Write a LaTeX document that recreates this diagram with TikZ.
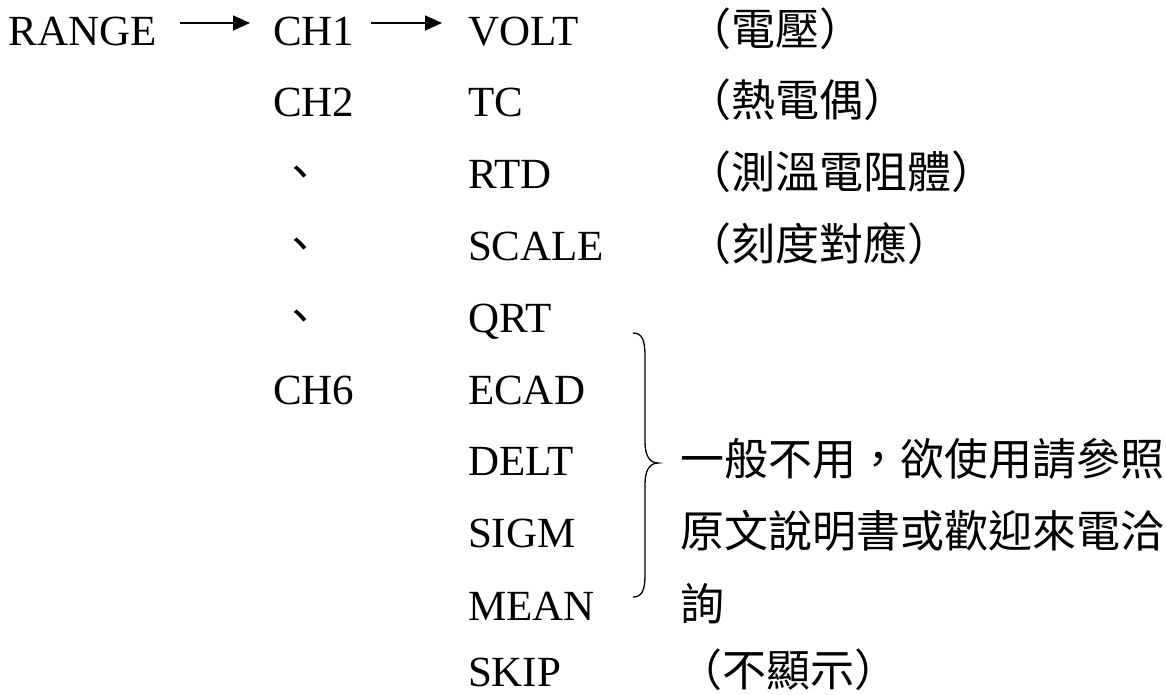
\documentclass[tikz,border=0pt]{standalone}
\usepackage{fontspec}
\setmainfont{Liberation Serif}
\newfontfamily\cjk{Noto Sans CJK TC}
\usetikzlibrary{calc,arrows.meta}
\begin{document}
\begin{tikzpicture}[x=1pt,y=-1pt,
  lbl/.style={anchor=base west,inner sep=0pt,outer sep=0pt,font=\fontsize{43}{50}\selectfont},
  zh/.style={anchor=base west,inner sep=0pt,outer sep=0pt,font=\cjk\fontsize{44}{50}\selectfont},
  arr/.style={line width=1.6pt,-{Triangle[length=17pt,width=15pt]}},
  bracestyle/.style={line width=1.3pt}]
\useasboundingbox (0,0) rectangle (1166,694);
% baselines: 45 + 71.8*i
\node[lbl] (range) at (9,45) {RANGE};
\node[lbl] (ch1) at (273,45) {CH1};
\node[lbl] (volt) at (468,45) {VOLT};
\node[zh] (voltzh) at (687,45) {（電壓）};
\draw[arr] ($(range.base east)+(23,-22)$) -- ($(ch1.base west)+(-23,-22)$);
\draw[arr] ($(ch1.base east)+(17,-22)$) -- ($(volt.base west)+(-26,-22)$);

\node[lbl] (ch2) at (273,116.8) {CH2};
\node[lbl] (tc) at (468,116.8) {TC};
\node[zh] (tczh) at (687,116.8) {（熱電偶）};

\node[zh] (d1) at (278,188.6) {、};
\node[lbl] (rtd) at (468,188.6) {RTD};
\node[zh] (rtdzh) at (687,188.6) {（測溫電阻體）};

\node[zh] (d2) at (278,260.4) {、};
\node[lbl] (scale) at (468,260.4) {SCALE};
\node[zh] (scalezh) at (687,260.4) {（刻度對應）};

\node[zh] (d3) at (278,332.2) {、};
\node[lbl] (qrt) at (468,332.2) {QRT};

\node[lbl] (ch6) at (273,404) {CH6};
\node[lbl] (ecad) at (468,404) {ECAD};

\node[lbl] (delt) at (468,475.8) {DELT};
\node[zh] (note1) at (680,475.8) {一般不用，欲使用請參照};

\node[lbl] (sigm) at (468,547.6) {SIGM};
\node[zh] (note2) at (680,547.6) {原文說明書或歡迎來電洽};

\node[lbl] (mean) at (468,620) {MEAN};
\node[zh] (note3) at (680,620) {詢};

\node[lbl] (skip) at (468,686) {SKIP};
\node[zh] (skipzh) at (678,686) {（不顯示）};

\draw[bracestyle] (633,333) .. controls (642,333) and (645,340) .. (645,356)
  -- (645,442) .. controls (645,456) and (650,463) .. (658,463)
  .. controls (650,463) and (645,470) .. (645,484)
  -- (645,575) .. controls (645,590) and (642,597) .. (633,597);
\end{tikzpicture}
\end{document}
